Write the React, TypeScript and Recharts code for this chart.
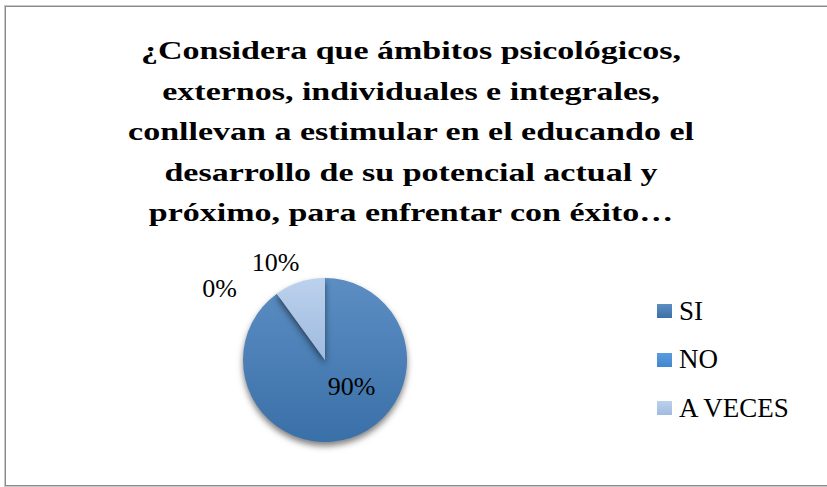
import { PieChart, Pie, Cell, Legend } from 'recharts';

const categories = ['SI', 'NO', 'A VECES'];
const values = [90, 0, 10];
const valueLabels = ['90%', '0%', '10%'];
const titleLines = [
  '¿Considera que ámbitos psicológicos,',
  'externos, individuales e integrales,',
  'conllevan a estimular en el educando el',
  'desarrollo de su potencial actual y',
  'próximo, para enfrentar con éxito…',
];

const fills = ['url(#gradSi)', 'url(#gradNo)', 'url(#gradAv)'];

const data = categories.map((name, i) => ({ name, value: values[i] }));

const SERIF = '"Liberation Serif", "Times New Roman", Times, serif';

// label placement (angle in degrees, distance as a share of the radius)
const labelPlace = [
  { angle: -45, dist: 0.46 },
  { angle: 146, dist: 1.55 },
  { angle: 117, dist: 1.33 },
];

const RAD = Math.PI / 180;

const renderLabel = (props: any) => {
  const { cx, cy, outerRadius, index } = props;
  const p = labelPlace[index];
  const r = outerRadius * p.dist;
  const x = cx + r * Math.cos(p.angle * RAD);
  const y = cy - r * Math.sin(p.angle * RAD);
  return (
    <text
      x={x}
      y={y}
      textAnchor="middle"
      dominantBaseline="central"
      style={{ fontFamily: SERIF, fontSize: 26 }}
      fill="#000"
    >
      {valueLabels[index]}
    </text>
  );
};

const renderLegend = () => (
  <div style={{ fontFamily: SERIF, fontSize: 27, color: '#000' }}>
    {categories.map((name, i) => (
      <div key={name} style={{ display: 'flex', alignItems: 'center', height: 48.5 }}>
        <svg width={15} height={14} style={{ marginRight: 7 }}>
          <rect width={15} height={14} fill={fills[i]} />
        </svg>
        <span>{name}</span>
      </div>
    ))}
  </div>
);

export default function App() {
  return (
    <div style={{ position: 'absolute', left: 0, top: 0, width: 827, height: 487, background: '#fff', overflow: 'hidden' }}>
      <style>{`.recharts-sector { filter: drop-shadow(0px 4px 3px rgba(0,0,0,0.5)); }`}</style>
      <svg width={0} height={0} style={{ position: 'absolute' }}>
        <defs>
          <linearGradient id="gradSi" x1="0" y1="0" x2="0" y2="1">
            <stop offset="0%" stopColor="#5c8ec3" />
            <stop offset="100%" stopColor="#3a70a8" />
          </linearGradient>
          <linearGradient id="gradNo" x1="0" y1="0" x2="0" y2="1">
            <stop offset="0%" stopColor="#5a9ce0" />
            <stop offset="100%" stopColor="#4187cf" />
          </linearGradient>
          <linearGradient id="gradAv" x1="0" y1="0" x2="0" y2="1">
            <stop offset="0%" stopColor="#bcd1ec" />
            <stop offset="100%" stopColor="#9fbbe0" />
          </linearGradient>
        </defs>
      </svg>
      <div
        style={{
          position: 'absolute',
          left: 5,
          top: 6,
          width: 830,
          height: 478,
          border: '1px solid #8a8a8a',
          boxShadow: '0 0 0 1px #c8c8c8',
        }}
      />
      <svg width={827} height={487} style={{ position: 'absolute', left: 0, top: 0 }}>
        {titleLines.map((line, i) => (
          <text
            key={i}
            transform={`translate(411, ${59 + i * 40.5}) scale(1, 0.76)`}
            textAnchor="middle"
            style={{ fontFamily: SERIF, fontWeight: 'bold', fontSize: 34 }}
            fill="#000"
          >
            {line}
          </text>
        ))}
      </svg>
      <div style={{ position: 'absolute', left: 0, top: 0 }}>
        <PieChart width={827} height={487}>
          <Pie
            data={data}
            dataKey="value"
            nameKey="name"
            cx={320}
            cy={355}
            outerRadius={82}
            startAngle={90}
            endAngle={-270}
            stroke="none"
            label={renderLabel}
            labelLine={false}
            isAnimationActive={false}
          >
            {data.map((d, i) => (
              <Cell key={d.name} fill={fills[i]} />
            ))}
          </Pie>
          <Legend
            layout="vertical"
            align="right"
            verticalAlign="top"
            content={renderLegend}
            wrapperStyle={{ left: 657, top: 287, width: 170, right: 'auto' }}
          />
        </PieChart>
      </div>
    </div>
  );
}
